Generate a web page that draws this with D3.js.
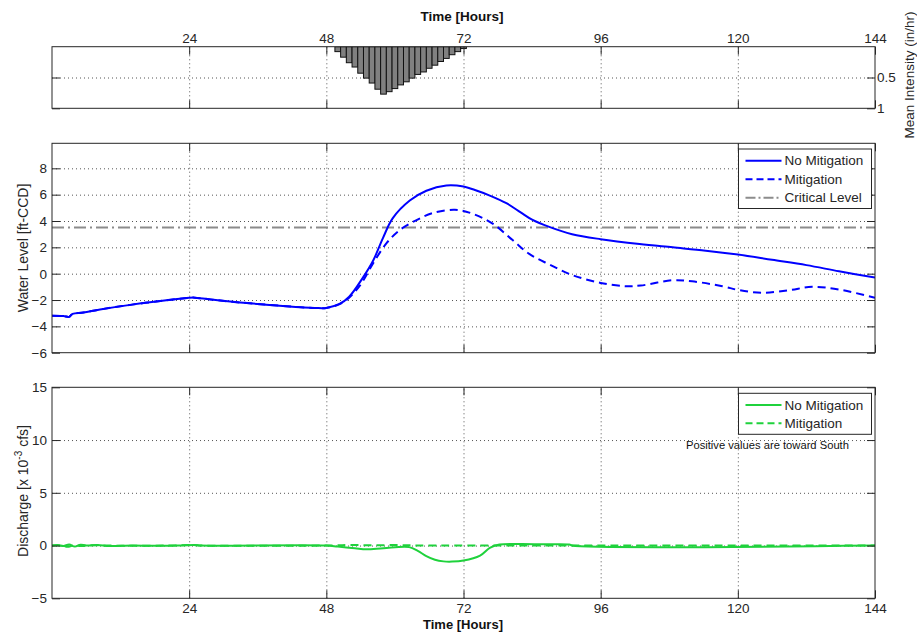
<!DOCTYPE html>
<html><head><meta charset="utf-8">
<script src="https://cdn.jsdelivr.net/npm/d3@7"></script>
<style>
body{margin:0;background:#fff;}
svg{display:block;font-family:"Liberation Sans",Arial,Helvetica,sans-serif;}
</style>
</head><body>
<svg id="c" width="917" height="637"></svg>
<script>
// ---------------- DATA ----------------
const hourTicks = [24, 48, 72, 96, 120, 144];
const hourGrid = [24, 48, 72, 96, 120];

const rainHours = [50,51,52,53,54,55,56,57,58,59,60,61,62,63,64,65,66,67,68,69,70,71,72];
const rainIntensity = [0.08,0.17,0.26,0.33,0.43,0.51,0.59,0.69,0.77,0.73,0.68,0.62,0.57,0.51,0.45,0.41,0.35,0.30,0.24,0.19,0.13,0.08,0.03];
const rainTicks = [0.5, 1];
const rainTickLabels = ["0.5", "1"];

const levelTimeNoMit = [0,2,3,3.6,5.5,8.4,14,20,24,25,29,34.6,40.4,46,48,50.3,52,54.4,56.2,57.9,59.6,62.6,65.5,69,72,74,76.5,79.5,82,84,87,91,96,102.8,108.6,114.4,120,126,132,137.7,144];
const levelNoMit = [-3.2,-3.22,-3.28,-3.05,-2.95,-2.72,-2.35,-2.02,-1.83,-1.82,-2.02,-2.25,-2.45,-2.6,-2.6,-2.3,-1.75,-0.3,1.0,2.7,4.2,5.55,6.3,6.7,6.62,6.35,5.95,5.35,4.65,4.1,3.55,3.0,2.62,2.25,2.0,1.75,1.45,1.05,0.65,0.18,-0.3];

const levelTimeMit = [0,2,3,3.6,5.5,8.4,14,20,24,25,29,34.6,40.4,46,48,49.5,51.3,53.8,56.2,58.5,60.8,63.7,66.6,70.5,73.6,77.1,80.6,83.5,87,91,96,100.4,103,108.6,112,117.3,120.2,124.3,129,133,137.7,144];
const levelMit = [-3.2,-3.22,-3.28,-3.05,-2.95,-2.72,-2.35,-2.02,-1.83,-1.82,-2.02,-2.25,-2.45,-2.6,-2.6,-2.45,-2.08,-0.95,0.8,2.3,3.3,4.05,4.6,4.85,4.55,3.8,2.55,1.5,0.7,-0.1,-0.7,-0.95,-0.9,-0.5,-0.58,-0.95,-1.25,-1.45,-1.25,-1.0,-1.2,-1.83];

const criticalLevel = 3.5;
const levelTicks = [-6,-4,-2,0,2,4,6,8];

const flowTimeNoMit = [0,1,2,3,4,5,6,8,10,14,18,22,25,26,48,50,53,55,58,62.5,64,65.5,67,68.5,70,72,74.9,76.6,78.3,82,86,90.5,91,144];
const flowNoMit = [0,0.05,-0.05,0.1,-0.1,0.08,0,0.05,-0.05,0,-0.03,0,0.05,0,0,-0.1,-0.25,-0.35,-0.25,-0.15,-0.5,-1.0,-1.35,-1.5,-1.52,-1.42,-0.95,-0.22,0.1,0.15,0.12,0.1,0,0];

const flowTimeMit = [0,1,2,2.7,4,5,7,10,14,20,25,26,48,52,56,60,63,66,70,144];
const flowMit = [0,0.03,-0.03,-0.12,0.05,-0.05,0.02,0,-0.03,0,0.04,0,0,0.05,0.02,0.05,0.02,0,0,0];
const flowTicks = [-5,0,5,10,15];

// ---------------- LAYOUT ----------------
const svg = d3.select("#c");
const X0 = 52, X1 = 875;
const x = d3.scaleLinear([0,144],[X0,X1]);
const P = {
  rain: {top:46.7, bottom:108.3},
  lev:  {top:143.3, bottom:352.7},
  flow: {top:387.3, bottom:598.3}
};
const yRain = d3.scaleLinear([0,1],[P.rain.top,P.rain.bottom]);
const yLev = d3.scaleLinear([-6,9.9],[P.lev.bottom,P.lev.top]);
const yFlow = d3.scaleLinear([-5,15],[P.flow.bottom,P.flow.top]);

const AX = "#262626";
const GRID = "#555";
const FS = 13.5;
const BLUE = "#0000ff";
const GREEN = "#1fd23c";

function clip(id, p){
  svg.append("clipPath").attr("id",id).append("rect")
    .attr("x",X0).attr("y",p.top).attr("width",X1-X0).attr("height",p.bottom-p.top);
}
clip("cRain",P.rain); clip("cLev",P.lev); clip("cFlow",P.flow);

function styleAxis(g){
  g.select(".domain").remove();
  g.selectAll(".tick line").attr("stroke",AX);
  g.selectAll("text").attr("fill",AX).attr("font-size",FS).attr("font-family",null);
  g.attr("font-family",null).attr("font-size",null);
}

function grid(p, yScale, yVals){
  const h = p.bottom - p.top;
  const gx = svg.append("g").attr("transform",`translate(0,${p.bottom})`)
    .call(d3.axisBottom(x).tickValues(hourGrid).tickSize(-h).tickFormat(""));
  gx.select(".domain").remove();
  gx.selectAll("line").attr("stroke",GRID).attr("stroke-dasharray","1,3");
  const gy = svg.append("g").attr("transform",`translate(${X0},0)`)
    .call(d3.axisLeft(yScale).tickValues(yVals).tickSize(-(X1-X0)).tickFormat(""));
  gy.select(".domain").remove();
  gy.selectAll("line").attr("stroke",GRID).attr("stroke-dasharray","1,3");
}

function frame(p, yScale, yVals, opts){
  const gb = svg.append("g").attr("transform",`translate(0,${p.bottom})`)
    .call(d3.axisBottom(x).tickValues(hourTicks).tickSize(-8).tickPadding(5)
      .tickFormat(opts.bottomLabels ? d3.format("d") : ""));
  styleAxis(gb);
  const gt = svg.append("g").attr("transform",`translate(0,${p.top})`)
    .call(d3.axisTop(x).tickValues(hourTicks).tickSize(-8).tickPadding(4)
      .tickFormat(opts.topLabels ? d3.format("d") : ""));
  styleAxis(gt);
  const gl = svg.append("g").attr("transform",`translate(${X0},0)`)
    .call(d3.axisLeft(yScale).tickValues(yVals).tickSize(-8).tickPadding(5)
      .tickFormat(opts.leftLabels ? opts.leftFmt : ""));
  styleAxis(gl);
  const gr = svg.append("g").attr("transform",`translate(${X1},0)`)
    .call(d3.axisRight(yScale).tickValues(yVals).tickSize(-8).tickPadding(2)
      .tickFormat(opts.rightLabels ? opts.rightFmt : ""));
  styleAxis(gr);
  svg.append("rect").attr("x",X0).attr("y",p.top).attr("width",X1-X0).attr("height",p.bottom-p.top)
    .attr("fill","none").attr("stroke",AX).attr("stroke-width",1);
}

// ---------------- TOP: RAINFALL ----------------
grid(P.rain, yRain, rainTicks.filter(v=>v<1));
const rainData = rainHours.map((h,i)=>({h, v:rainIntensity[i]}));
svg.append("g").attr("clip-path","url(#cRain)").selectAll("rect").data(rainData).join("rect")
  .attr("x",d=>x(d.h-0.5)).attr("width",d=>x(d.h+0.5)-x(d.h-0.5))
  .attr("y",yRain(0)).attr("height",d=>yRain(d.v)-yRain(0))
  .attr("fill","#808080").attr("stroke","#111").attr("stroke-width",1);
frame(P.rain, yRain, rainTicks, {topLabels:true, rightLabels:true,
  rightFmt:(d)=>rainTickLabels[rainTicks.indexOf(d)]});

svg.append("text").attr("x",462).attr("y",21).attr("text-anchor","middle")
  .attr("font-weight","bold").attr("font-size",13.5).attr("fill","#111").text("Time [Hours]");
svg.append("text").attr("transform","translate(914,75) rotate(-90)").attr("text-anchor","middle")
  .attr("font-size",13.5).attr("fill",AX).text("Mean Intensity (in/hr)");

// ---------------- MIDDLE: WATER LEVEL ----------------
grid(P.lev, yLev, levelTicks.filter(v=>v>-6));
const smooth = d3.curveCatmullRom.alpha(0.5);
const lineL = d3.line().x(d=>x(d[0])).y(d=>yLev(d[1])).curve(smooth);
const gL = svg.append("g").attr("clip-path","url(#cLev)");
gL.append("path").datum([[0,criticalLevel],[144,criticalLevel]]).attr("d",lineL)
  .attr("fill","none").attr("stroke","#8c8c8c").attr("stroke-width",2).attr("stroke-dasharray","12,4,2,4");
gL.append("path").datum(levelTimeMit.map((t,i)=>[t,levelMit[i]])).attr("d",lineL)
  .attr("fill","none").attr("stroke",BLUE).attr("stroke-width",2).attr("stroke-dasharray","8,5");
gL.append("path").datum(levelTimeNoMit.map((t,i)=>[t,levelNoMit[i]])).attr("d",lineL)
  .attr("fill","none").attr("stroke",BLUE).attr("stroke-width",2);
frame(P.lev, yLev, levelTicks, {leftLabels:true, leftFmt:d3.format("d")});
svg.append("text").attr("transform","translate(28,248) rotate(-90)").attr("text-anchor","middle")
  .attr("font-size",14).attr("fill",AX).text("Water Level [ft-CCD]");

function legend(lx, ly, w, h, rows, rowY){
  const g = svg.append("g");
  g.append("rect").attr("x",lx).attr("y",ly).attr("width",w).attr("height",h)
    .attr("fill","#fff").attr("stroke",AX).attr("stroke-width",1);
  rows.forEach((r,i)=>{
    const yy = ly + rowY[i];
    g.append("line").attr("x1",lx+7).attr("x2",lx+43).attr("y1",yy).attr("y2",yy)
      .attr("stroke",r.color).attr("stroke-width",2).attr("stroke-dasharray",r.dash||null);
    g.append("text").attr("x",lx+46).attr("y",yy).attr("dy","0.35em")
      .attr("font-size",FS).attr("fill",AX).text(r.label);
  });
}
legend(738.5, 149, 133, 59.5, [
  {label:"No Mitigation", color:BLUE},
  {label:"Mitigation", color:BLUE, dash:"7,4"},
  {label:"Critical Level", color:"#8c8c8c", dash:"10,3,2,3"}
], [11.7, 30.2, 48.7]);

// ---------------- BOTTOM: DISCHARGE ----------------
grid(P.flow, yFlow, flowTicks.filter(v=>v>-5 && v<15));
const lineQ = d3.line().x(d=>x(d[0])).y(d=>yFlow(d[1])).curve(smooth);
const gQ = svg.append("g").attr("clip-path","url(#cFlow)");
gQ.append("path").datum(flowTimeNoMit.map((t,i)=>[t,flowNoMit[i]])).attr("d",lineQ)
  .attr("fill","none").attr("stroke",GREEN).attr("stroke-width",2);
gQ.append("path").datum(flowTimeMit.map((t,i)=>[t,flowMit[i]])).attr("d",lineQ)
  .attr("fill","none").attr("stroke",GREEN).attr("stroke-width",2).attr("stroke-dasharray","8,5");
frame(P.flow, yFlow, flowTicks, {leftLabels:true, leftFmt:d3.format("d"), bottomLabels:true});

const dl = svg.append("text").attr("transform","translate(28,491) rotate(-90)").attr("text-anchor","middle")
  .attr("font-size",14).attr("fill",AX);
dl.append("tspan").text("Discharge [x 10");
dl.append("tspan").attr("dy",-6).attr("font-size",10).text("-3");
dl.append("tspan").attr("dy",6).text(" cfs]");

legend(738.5, 393.3, 133, 41, [
  {label:"No Mitigation", color:GREEN},
  {label:"Mitigation", color:GREEN, dash:"7,4"}
], [11.7, 30]);

svg.append("text").attr("x",686).attr("y",448.5).attr("font-size",11.2).attr("fill","#111")
  .text("Positive values are toward South");

svg.append("text").attr("x",463).attr("y",628.5).attr("text-anchor","middle")
  .attr("font-weight","bold").attr("font-size",13).attr("fill","#111").text("Time [Hours]");
</script>
</body></html>
